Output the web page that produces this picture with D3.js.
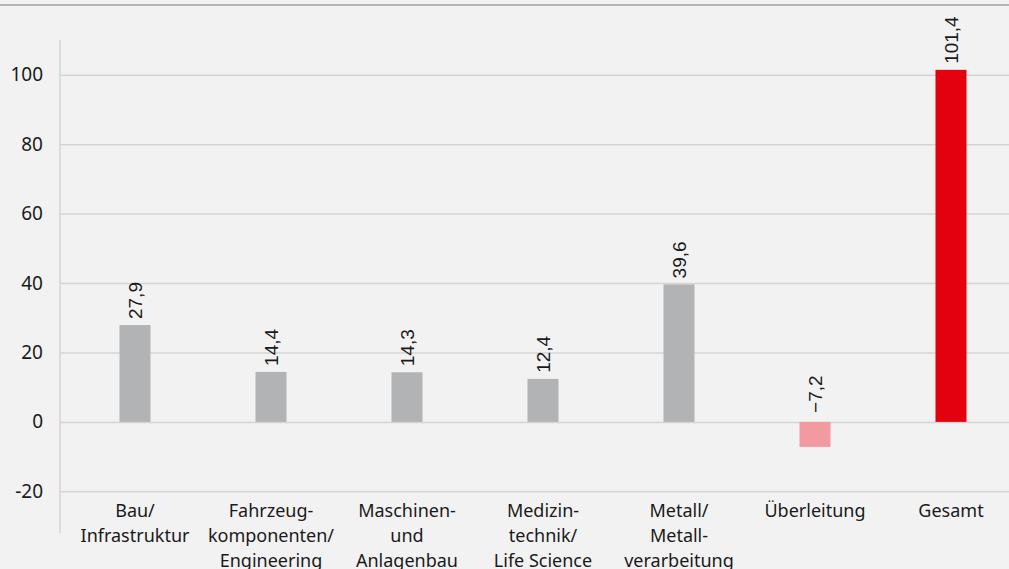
<!DOCTYPE html>
<html>
<head>
<meta charset="utf-8">
<script src="https://cdn.jsdelivr.net/npm/d3@7"></script>
<style>
  html, body { margin: 0; padding: 0; background: #f2f2f2; }
  svg { display: block; }
</style>
</head>
<body>
<svg id="chart" width="1009" height="569"></svg>
<script>
// Segment results (EBIT contributions, Mio. EUR)
const categories = [
  ["Bau/", "Infrastruktur"],
  ["Fahrzeug-", "komponenten/", "Engineering"],
  ["Maschinen-", "und", "Anlagenbau"],
  ["Medizin-", "technik/", "Life Science"],
  ["Metall/", "Metall-", "verarbeitung"],
  ["Überleitung"],
  ["Gesamt"]
];
const values = [27.9, 14.4, 14.3, 12.4, 39.6, -7.2, 101.4];
const valueLabels = ["27,9", "14,4", "14,3", "12,4", "39,6", "\u22127,2", "101,4"];
const barKinds = ["segment", "segment", "segment", "segment", "segment", "reconciliation", "total"];
const yTicks = [-20, 0, 20, 40, 60, 80, 100];

const colors = { segment: "#b2b3b4", reconciliation: "#f39aa0", total: "#e3000f" };

const svg = d3.select("#chart");
const W = 1009, H = 569;

svg.append("rect").attr("width", W).attr("height", H).attr("fill", "#f2f2f2");
// top rule
svg.append("line").attr("x1", 0).attr("x2", W).attr("y1", 5).attr("y2", 5)
  .attr("stroke", "#b4b4b4").attr("stroke-width", 2);

const keys = categories.map((c, i) => "c" + i);
const x = d3.scaleBand().domain(keys).range([67, 1019]).paddingInner(0.772).paddingOuter(0.386);
const y = d3.scaleLinear().domain([-32, 110]).range([533, 40]);

const axisX = 60;

// gridlines + tick labels
const yAxis = d3.axisLeft(y).tickValues(yTicks).tickSize(0).tickPadding(0)
  .tickFormat(d => String(d));
const gy = svg.append("g").attr("transform", `translate(${axisX},0)`).call(yAxis);
gy.select(".domain").remove();
gy.selectAll(".tick text")
  .attr("x", -17)
  .attr("font-family", "'Noto Sans', 'Open Sans', sans-serif")
  .attr("font-size", 19)
  .attr("fill", "#1a1a1a");
gy.selectAll(".tick").append("line")
  .attr("x1", 0).attr("x2", W - axisX)
  .attr("stroke", "#d4d4d4").attr("stroke-width", 1.5);

// vertical axis line
svg.append("line").attr("x1", axisX).attr("x2", axisX).attr("y1", 40).attr("y2", 533)
  .attr("stroke", "#d4d4d4").attr("stroke-width", 1.5);

// bars
svg.append("g").selectAll("rect").data(values).join("rect")
  .attr("x", (d, i) => x(keys[i]))
  .attr("width", x.bandwidth())
  .attr("y", d => y(Math.max(0, d)))
  .attr("height", d => Math.abs(y(d) - y(0)))
  .attr("fill", (d, i) => colors[barKinds[i]]);

// rotated value labels
svg.append("g").selectAll("text").data(values).join("text")
  .attr("transform", (d, i) => {
    const cx = x(keys[i]) + x.bandwidth() / 2;
    const base = d >= 0 ? y(d) - 6 : y(0) - 9;
    return `translate(${cx + 7},${base}) rotate(-90)`;
  })
  .attr("text-anchor", "start")
  .attr("font-family", "'Liberation Sans', Arial, sans-serif")
  .attr("font-size", 19)
  .attr("fill", "#1a1a1a")
  .text((d, i) => valueLabels[i]);

// category labels
const cat = svg.append("g").selectAll("text").data(categories).join("text")
  .attr("x", (d, i) => x(keys[i]) + x.bandwidth() / 2)
  .attr("y", 517)
  .attr("text-anchor", "middle")
  .attr("font-family", "'Noto Sans', 'Open Sans', sans-serif")
  .attr("font-size", 18)
  .attr("fill", "#1a1a1a");
cat.selectAll("tspan").data(d => d).join("tspan")
  .attr("x", function () { return d3.select(this.parentNode).attr("x"); })
  .attr("dy", (d, j) => j === 0 ? 0 : 25)
  .text(d => d);
</script>
</body>
</html>
